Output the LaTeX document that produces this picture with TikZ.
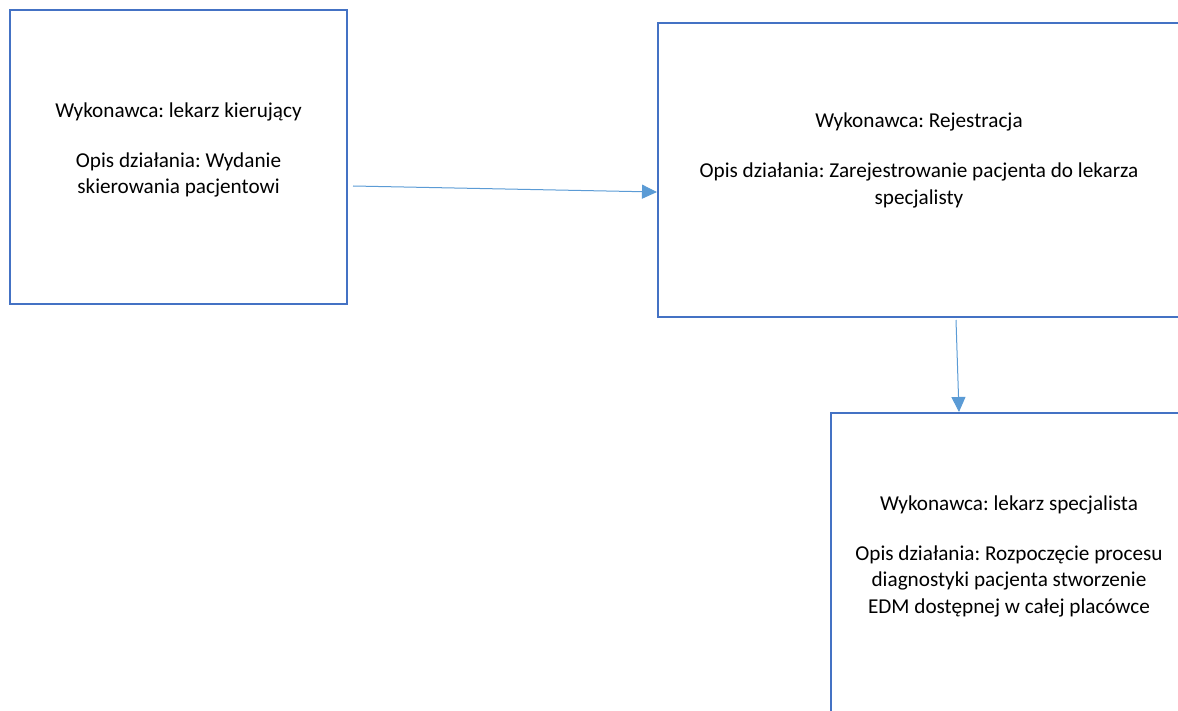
\documentclass[tikz,border=0pt]{standalone}
\usepackage{fontspec}
\setmainfont{Carlito}
\frenchspacing
\usetikzlibrary{arrows.meta}
\definecolor{boxblue}{HTML}{4472C4}
\definecolor{arrowblue}{HTML}{5B9BD5}
\tikzset{
  taskbox/.style={draw=boxblue, line width=2pt, inner sep=0pt},
  tasktext/.style={align=center, inner sep=0pt, yshift=7pt},
  flow/.style={draw=arrowblue, line width=1pt, -{Triangle[length=15pt,width=14pt,fill=arrowblue]}}
}

\begin{document}
\begin{tikzpicture}[x=1pt, y=-1pt, font=\fontsize{21.2}{26.5}\selectfont]
  \useasboundingbox (0,0) rectangle (1178,711);
  \clip (0,0) rectangle (1178,711);
  % boxes
  \node[taskbox, minimum width=337pt, minimum height=294pt] (kierujacy) at (178.5,157) {};
  \node[taskbox, minimum width=522pt, minimum height=294pt] (rejestracja) at (919,170) {};
  \node[taskbox, minimum width=356pt, minimum height=300pt] (specjalista) at (1009,563) {};
  % texts
  \node[tasktext] (kierujacy-txt) at (kierujacy.center)
    {Wykonawca: lekarz kierujący\\[23.5pt]Opis działania: Wydanie\\skierowania pacjentowi};
  \node[tasktext, yshift=2.5pt] (rejestracja-txt) at (rejestracja.center)
    {Wykonawca: Rejestracja\\[23.5pt]Opis działania: Zarejestrowanie pacjenta do lekarza\\specjalisty};
  \node[tasktext] (specjalista-txt) at (specjalista.center)
    {Wykonawca: lekarz specjalista\\[23.5pt]Opis działania: Rozpoczęcie procesu\\diagnostyki pacjenta stworzenie\\EDM dostępnej w całej placówce};
  % arrows
  \coordinate (skierowanie) at (353,186);
  \coordinate (zapis) at (657,192);
  \coordinate (wizyta) at (956,320);
  \coordinate (przyjecie) at (959,412);
  \draw[flow] (skierowanie) -- (zapis);
  \draw[flow] (wizyta) -- (przyjecie);
\end{tikzpicture}
\end{document}
